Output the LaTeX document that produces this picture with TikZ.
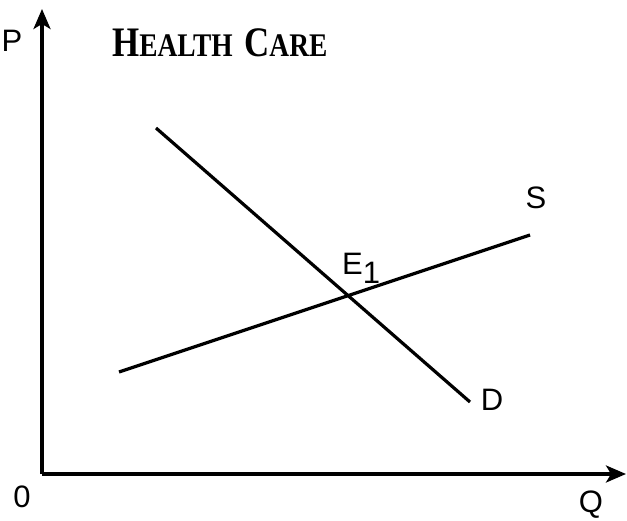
\documentclass[tikz,border=0pt]{standalone}
\usepackage{fontspec}
\setmainfont{Liberation Sans}
\newfontfamily\titlefont{Liberation Serif}
\usetikzlibrary{arrows.meta}

\begin{document}
\begin{tikzpicture}[
  x=1pt,y=1pt,
  axis/.style={line width=3.2pt, -{Stealth[length=20pt,width=17pt,inset=5pt]}},
  curve/.style={line width=3.2pt},
  lbl/.style={font=\fontsize{31}{31}\selectfont, inner sep=0pt}
]
\useasboundingbox (0,0) rectangle (627,520);
\coordinate (o) at (42,46);
\coordinate (ptop) at (42,511);
\coordinate (qend) at (626,46);
\coordinate (d1) at (156,392); \coordinate (d2) at (470,118);
\coordinate (s1) at (119,148); \coordinate (s2) at (530,285);
\draw[axis] (o) -- (ptop);
\draw[axis] (o) -- (qend);
\draw[curve] (d1) -- (d2);
\draw[curve] (s1) -- (s2);
\node[lbl] (p) at (12,479) {P};
\node[lbl] (zero) at (22,23) {0};
\node[lbl] (q) at (591,15) {Q};
\node[lbl] (s) at (536,322) {S};
\node[lbl] (d) at (492,120) {D};
\node[lbl, anchor=base west] (e1) at (342,245) {E\raisebox{-9pt}{1}};
\node[inner sep=0pt, anchor=base west] (title) at (112,463)
  {\scalebox{0.83}[1]{\titlefont\bfseries\fontsize{42}{42}\selectfont H\fontsize{33}{33}\selectfont EALTH\hspace{14pt}\fontsize{42}{42}\selectfont C\fontsize{33}{33}\selectfont ARE}};
\end{tikzpicture}
\end{document}
